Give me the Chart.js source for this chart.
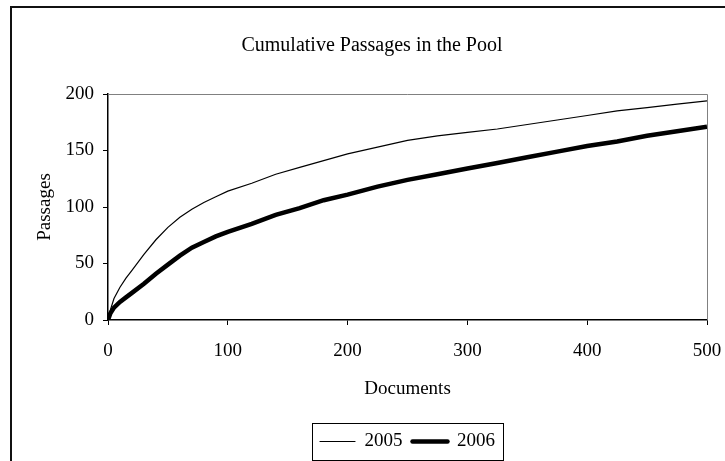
<!DOCTYPE html>
<html>
<head>
<meta charset="utf-8">
<script src="https://cdn.jsdelivr.net/npm/chart.js@4/dist/chart.umd.min.js"></script>
<style>
  html, body { margin: 0; padding: 0; background: #fff; }
  #wrap { width: 725px; height: 461px; }
</style>
</head>
<body>
<div id="wrap"><canvas id="myChart" width="725" height="461"></canvas></div>
<script>
const docs = [0, 2, 5, 10, 15, 20, 30, 40, 50, 60, 70, 80, 90, 100, 120, 140, 160, 180, 200,
  225, 250, 275, 300, 325, 350, 375, 400, 425, 450, 475, 500];
const passages2005 = [0, 9, 19, 29, 37, 44, 58, 71, 82, 91, 98, 104, 109, 114, 121, 129, 135, 141, 147,
  153, 159, 163, 166, 169, 173, 177, 181, 185, 188, 191, 194];
const passages2006 = [0, 6, 11, 16, 20, 24, 32, 41, 49, 57, 64, 69, 74, 78, 85, 93, 99, 106, 111,
  118, 124, 129, 134, 139, 144, 149, 154, 158, 163, 167, 171];
const xTicks = [0, 100, 200, 300, 400, 500];
const yTicks = [0, 50, 100, 150, 200];

const FONT = "'Times New Roman', 'Liberation Serif', serif";
Chart.defaults.font.family = FONT;
Chart.defaults.font.size = 19;
Chart.defaults.color = "#000";

// frame, plot border, legend box
const decor = {
  id: "decor",
  afterLayout(chart) {
    const a = chart.chartArea;
    chart.legend.left = a.left;
    chart.legend.right = a.right;
    chart.titleBlock.left = 37;
    chart.titleBlock.right = a.right;
  },
  beforeDraw(chart) {
    const ctx = chart.ctx;
    ctx.save();
    ctx.fillStyle = "#fff";
    ctx.fillRect(0, 0, chart.width, chart.height);
    ctx.strokeStyle = "#111";
    ctx.lineWidth = 2;
    ctx.strokeRect(11, 7, 740, 480);
    ctx.restore();
  },
  beforeDatasetsDraw(chart) {
    const ctx = chart.ctx;
    const a = chart.chartArea;
    ctx.save();
    ctx.strokeStyle = "#808080";
    ctx.lineWidth = 1;
    ctx.beginPath();
    ctx.moveTo(a.left, a.top + 0.5);
    ctx.lineTo(a.right + 0.5, a.top + 0.5);
    ctx.lineTo(a.right + 0.5, a.bottom);
    ctx.stroke();
    ctx.restore();
  },
  afterDraw(chart) {
    const hb = chart.legend.legendHitBoxes;
    if (!hb || !hb.length) return;
    const ctx = chart.ctx;
    const l = Math.min(...hb.map(h => h.left)) - 8;
    const r = Math.max(...hb.map(h => h.left + h.width)) + 8;
    const t = Math.min(...hb.map(h => h.top)) - 9;
    const b = Math.max(...hb.map(h => h.top + h.height)) + 9;
    ctx.save();
    ctx.strokeStyle = "#000";
    ctx.lineWidth = 1;
    ctx.strokeRect(Math.round(l) + 0.5, Math.round(t) + 0.5, Math.round(r - l), Math.round(b - t));
    ctx.restore();
  }
};

const ctx = document.getElementById("myChart").getContext("2d");
new Chart(ctx, {
  type: "line",
  data: {
    labels: docs,
    datasets: [
      {
        label: "2005",
        data: docs.map((d, i) => ({ x: d, y: passages2005[i] })),
        borderColor: "#000",
        backgroundColor: "#000",
        borderWidth: 1.2,
        pointRadius: 0,
        tension: 0
      },
      {
        label: "2006",
        data: docs.map((d, i) => ({ x: d, y: passages2006[i] })),
        borderColor: "#000",
        backgroundColor: "#000",
        borderWidth: 4.5,
        pointRadius: 0,
        tension: 0
      }
    ]
  },
  options: {
    responsive: false,
    animation: false,
    devicePixelRatio: 1,
    layout: { padding: { left: 20, right: 18, top: 0, bottom: 0 } },
    plugins: {
      title: {
        display: true,
        text: "Cumulative Passages in the Pool",
        font: { size: 20, weight: "normal" },
        padding: { top: 34, bottom: 36 }
      },
      legend: {
        position: "bottom",
        labels: {
          usePointStyle: true,
          pointStyle: "line",
          pointStyleWidth: 35,
          padding: 10,
          font: { size: 19 },
          generateLabels(chart) {
            return chart.data.datasets.map((ds, i) => ({
              text: ds.label,
              strokeStyle: "#000",
              fillStyle: "#000",
              lineWidth: ds.borderWidth,
              lineCap: "round",
              pointStyle: "line",
              datasetIndex: i,
              fontColor: "#000"
            }));
          }
        }
      },
      tooltip: { enabled: false }
    },
    scales: {
      x: {
        type: "linear",
        min: 0,
        max: 500,
        afterBuildTicks: s => { s.ticks = xTicks.map(v => ({ value: v })); },
        afterFit: s => { s.height = 102; s.paddingRight = 0; s.paddingLeft = 0; },
        grid: { drawOnChartArea: false, drawTicks: true, tickLength: 5, color: "#000" },
        border: { display: true, color: "#000", width: 1.5 },
        ticks: { padding: 15, maxRotation: 0, font: { size: 19 } },
        title: { display: true, text: "Documents", font: { size: 19 }, padding: { top: 0, bottom: 22 } }
      },
      y: {
        min: 0,
        max: 200,
        afterBuildTicks: s => { s.ticks = yTicks.map(v => ({ value: v })); },
        afterFit: s => { s.width = 88; },
        grid: { drawOnChartArea: false, drawTicks: true, tickLength: 5, color: "#000" },
        border: { display: true, color: "#000", width: 1.5 },
        ticks: { padding: 9, font: { size: 19 } },
        title: { display: true, text: "Passages", font: { size: 19 }, padding: { top: 14, bottom: 0 } }
      }
    }
  },
  plugins: [decor]
});
</script>
</body>
</html>
